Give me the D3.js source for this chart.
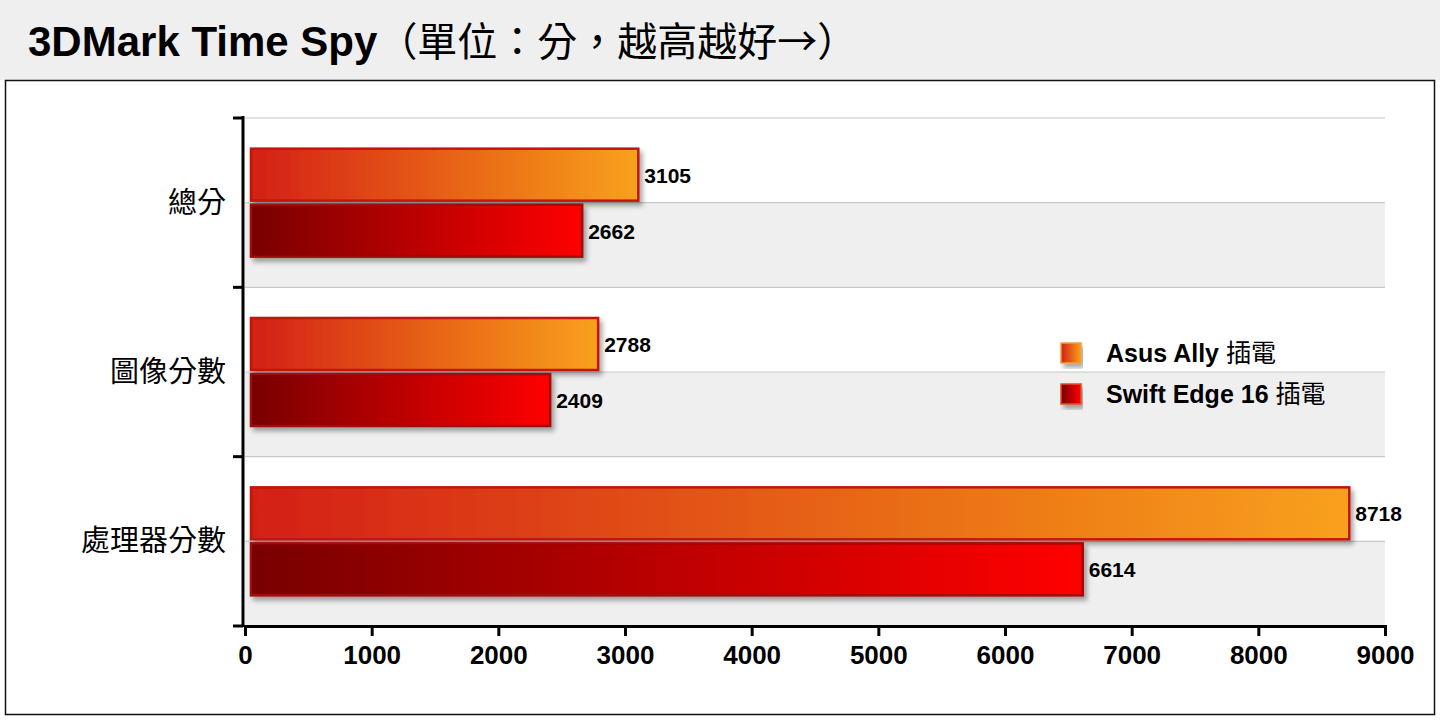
<!DOCTYPE html>
<html><head><meta charset="utf-8">
<script src="https://cdn.jsdelivr.net/npm/d3@7"></script>
<style>body{margin:0;background:#fff}svg{display:block}</style>
</head><body><svg id="c" width="1440" height="720"></svg>
<script>
const categories = ["總分","圖像分數","處理器分數"];
const seriesNames = ["Asus Ally 插電","Swift Edge 16 插電"];
const asusValues = [3105, 2788, 8718];
const swiftValues = [2662, 2409, 6614];
const xTicks = [0,1000,2000,3000,4000,5000,6000,7000,8000,9000];
const titleMain = "3DMark Time Spy";
const titleSub = "（單位：分，越高越好→）";

const svg = d3.select("#c");
const font = "'Liberation Sans', Arial, 'Noto Sans CJK TC', sans-serif";
const defs = svg.append("defs");
function grad(id, c0, c1){
  const g = defs.append("linearGradient").attr("id",id).attr("x1","0").attr("x2","1").attr("y1","0").attr("y2","0");
  g.append("stop").attr("offset","0").attr("stop-color",c0);
  g.append("stop").attr("offset","1").attr("stop-color",c1);
}
grad("gA","#d41f12","#f8a11b");
grad("gB","#780000","#ff0505");
const f = defs.append("filter").attr("id","sh").attr("x","-5%").attr("y","-10%").attr("width","115%").attr("height","140%");
f.append("feDropShadow").attr("dx",3).attr("dy",4).attr("stdDeviation",2.5).attr("flood-color","#000").attr("flood-opacity",0.35);

svg.append("rect").attr("x",0).attr("y",0).attr("width",1440).attr("height",80).attr("fill","#efefef");
const tt = svg.append("text").attr("x",28).attr("y",56).attr("font-family",font).attr("font-size",42).attr("fill","#000");
tt.append("tspan").attr("font-weight","bold").text(titleMain);
tt.append("tspan").attr("font-family","'Noto Sans CJK TC', sans-serif").attr("font-size",40).attr("font-weight","normal").text(titleSub);
svg.append("rect").attr("x",5.5).attr("y",80.5).attr("width",1429).attr("height",634).attr("fill","#fff").attr("stroke","#111").attr("stroke-width",1.5);

const x = d3.scaleLinear().domain([0,9000]).range([245,1385]);
const y = d3.scaleBand().domain(categories).range([118,626]);
const bw = y.bandwidth();
const half = bw/2;

categories.forEach(c=>{
  const y0=y(c);
  svg.append("rect").attr("x",245).attr("y",y0+half).attr("width",1140).attr("height",half).attr("fill","#efefef");
});
const lines=[];
categories.forEach(c=>{lines.push(y(c),y(c)+half);});
lines.push(626);
svg.selectAll(".gl").data(lines).join("line").attr("x1",245).attr("x2",1385).attr("y1",d=>d).attr("y2",d=>d).attr("stroke","#c8c8c8").attr("stroke-width",1.2);

const barH = 52;
function drawBars(vals, off, fill, stroke){
  svg.selectAll(null).data(vals).join("rect")
    .attr("x",x(0)+6).attr("y",(d,i)=>y(categories[i])+half+off)
    .attr("width",d=>x(d)-x(0)-6).attr("height",barH)
    .attr("fill",fill).attr("stroke",stroke).attr("stroke-width",2.5).attr("filter","url(#sh)");
  svg.selectAll(null).data(vals).join("text")
    .attr("x",d=>x(d)+6).attr("y",(d,i)=>y(categories[i])+half+off+barH/2+8)
    .attr("font-family",font).attr("font-size",21).attr("font-weight","bold").text(d=>d);
}
drawBars(asusValues,-barH-2,"url(#gA)","#c2140f");
drawBars(swiftValues,2,"url(#gB)","#a00808");

svg.append("line").attr("x1",243).attr("x2",243).attr("y1",116).attr("y2",627).attr("stroke","#000").attr("stroke-width",3);
svg.selectAll(".ct").data([...categories.map(c=>y(c)),626]).join("line").attr("x1",233).attr("x2",243).attr("y1",d=>d).attr("y2",d=>d).attr("stroke","#000").attr("stroke-width",3);
svg.selectAll(".cl").data(categories).join("text").attr("x",226).attr("y",d=>y(d)+half+10).attr("text-anchor","end")
  .attr("font-family",font).attr("font-size",29).text(d=>d);

const xa = svg.append("g").attr("transform","translate(0,626)").call(d3.axisBottom(x).tickValues(xTicks).tickSize(10).tickPadding(10).tickFormat(d3.format("d")));
xa.select(".domain").attr("stroke","#000").attr("stroke-width",3);
xa.selectAll(".tick line").attr("stroke","#000").attr("stroke-width",3);
xa.selectAll(".tick text").attr("font-family",font).attr("font-size",26).attr("font-weight","bold").attr("fill","#000");

const lg = svg.append("g");
seriesNames.forEach((n,i)=>{
  const yy = 343+i*41;
  lg.append("rect").attr("x",1061).attr("y",yy).attr("width",20).attr("height",20).attr("fill",i?"url(#gB)":"url(#gA)").attr("stroke",i?"#e05020":"#f0a040").attr("stroke-width",1.5).attr("filter","url(#sh)");
  lg.append("text").attr("x",1106).attr("y",yy+19).attr("font-family",font).attr("font-size",25).attr("font-weight","bold").text(n.split(" 插電")[0])
    .append("tspan").attr("font-weight","normal").text(" 插電");
});
</script></body></html>
